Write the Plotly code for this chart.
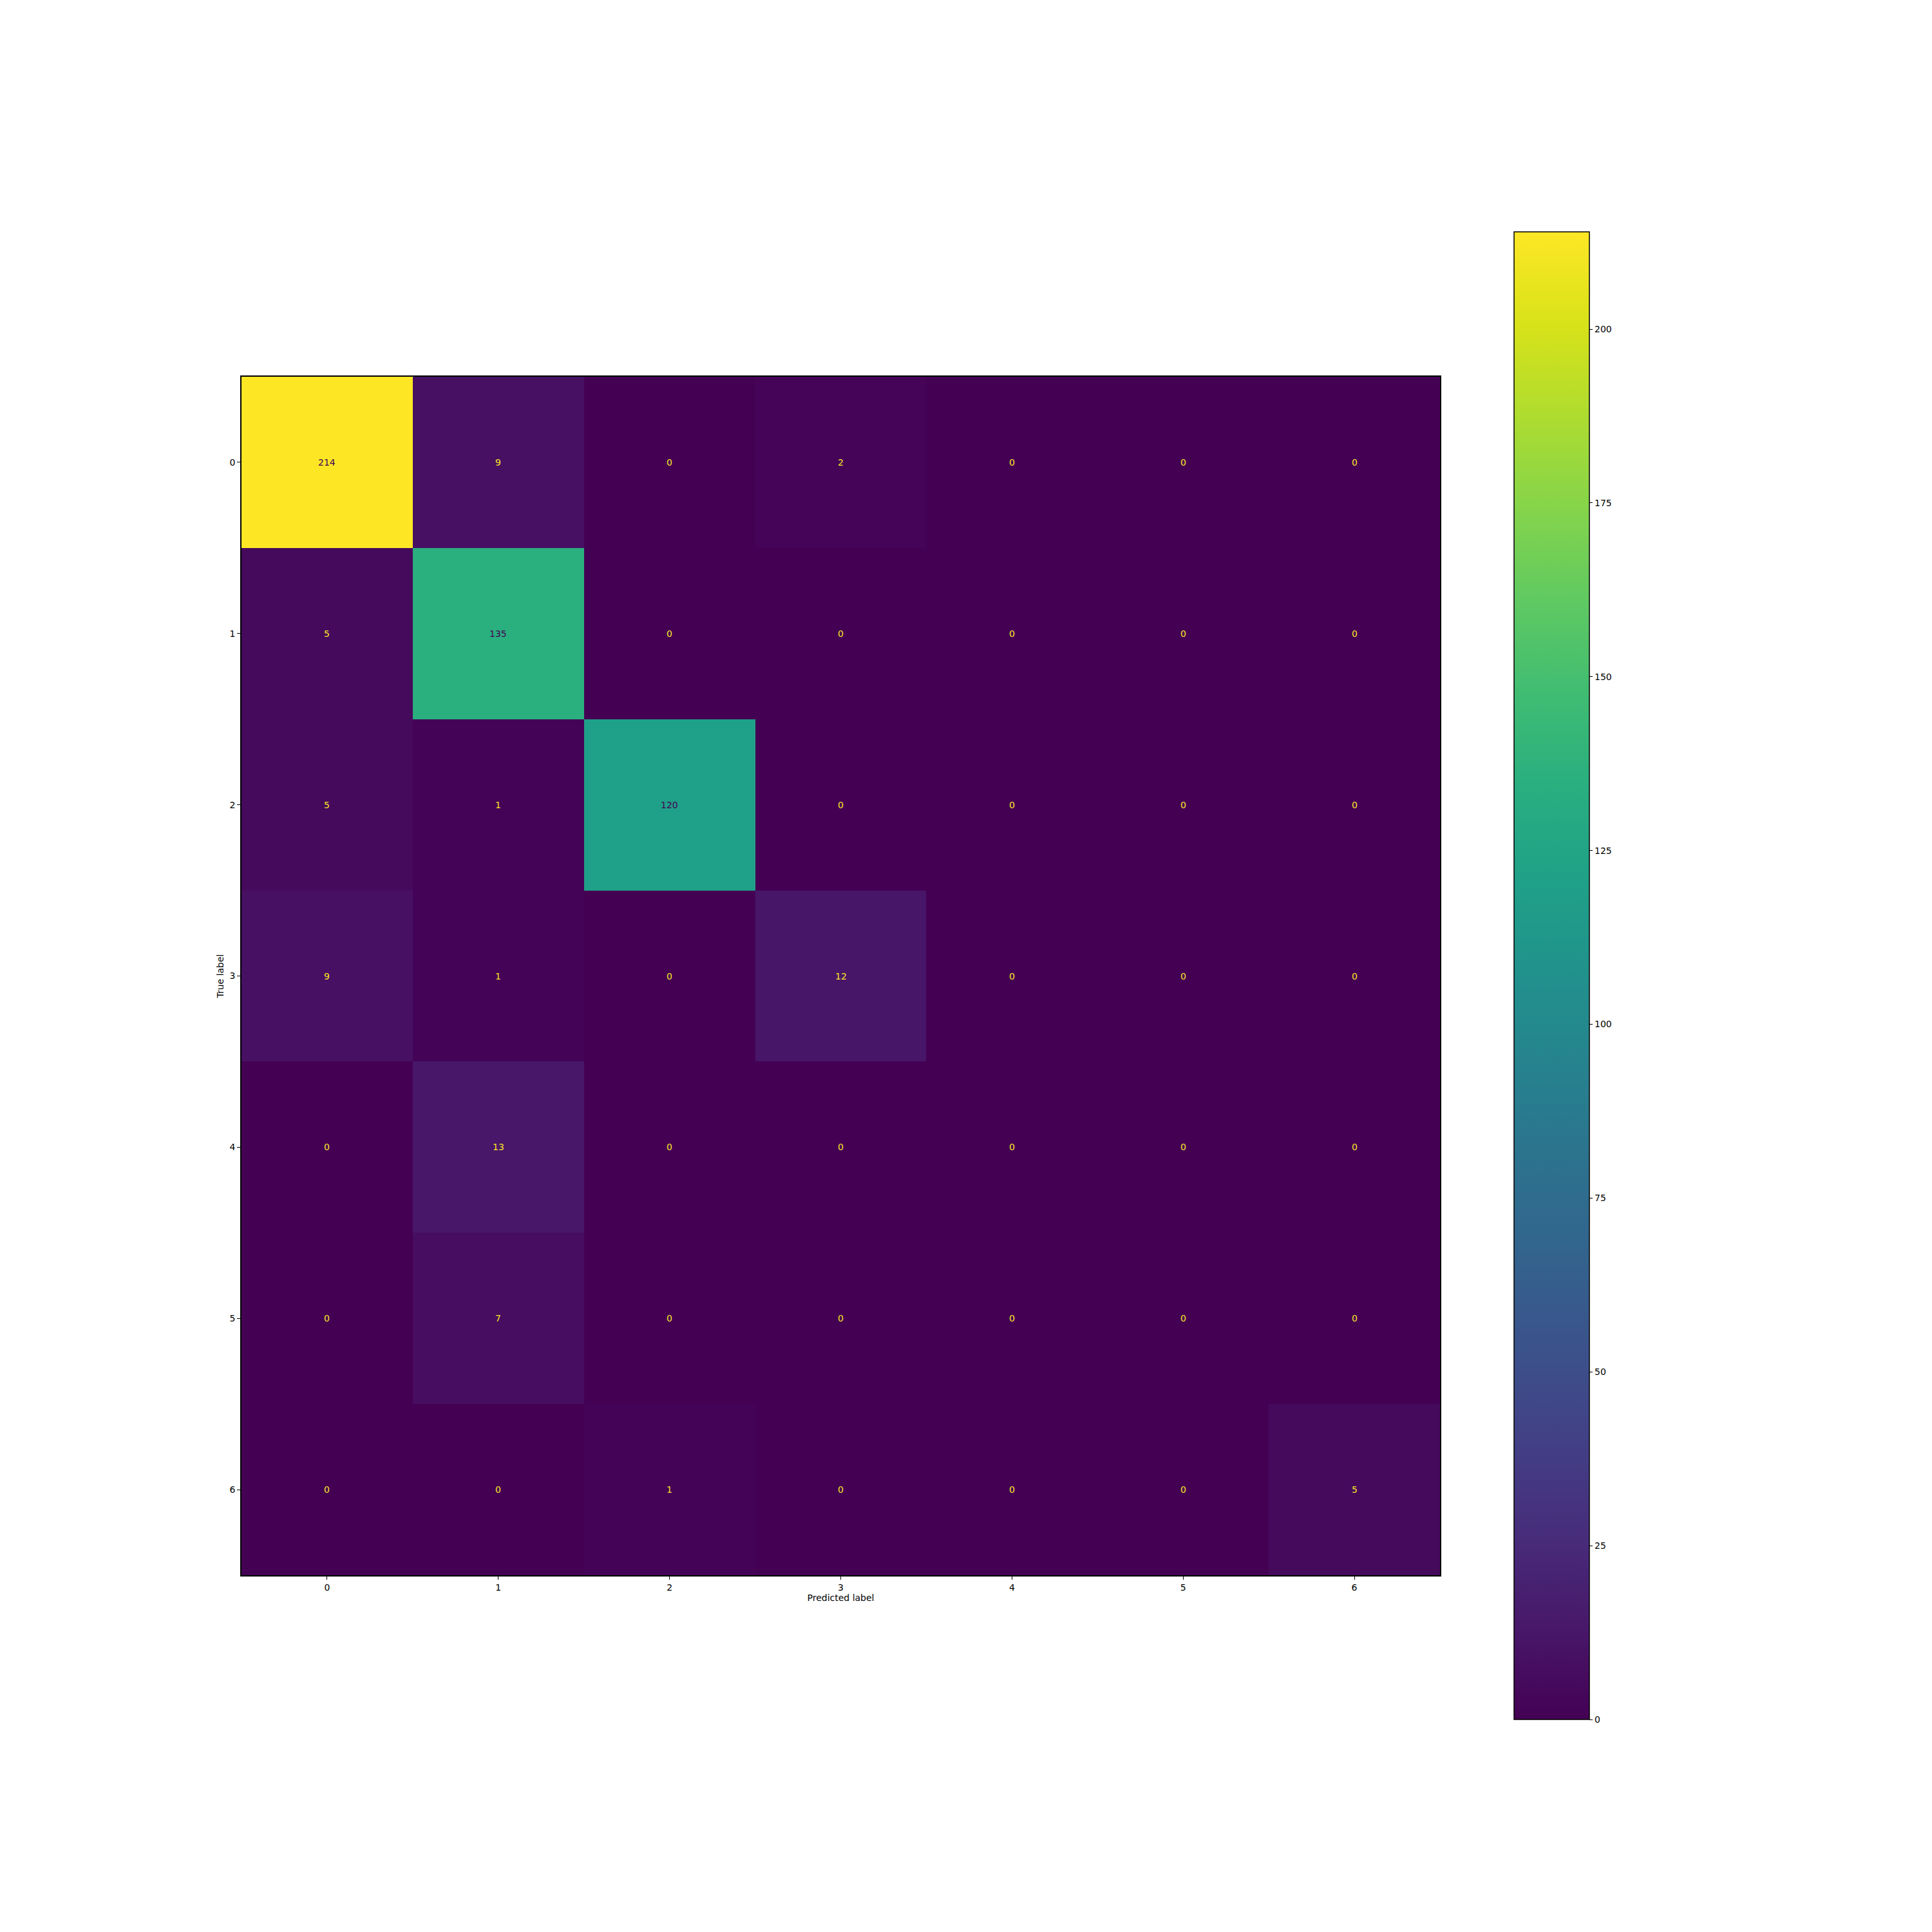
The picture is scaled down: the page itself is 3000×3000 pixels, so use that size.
import plotly.graph_objects as go

labels = ["0", "1", "2", "3", "4", "5", "6"]
matrix = [
    [214, 9, 0, 2, 0, 0, 0],
    [5, 135, 0, 0, 0, 0, 0],
    [5, 1, 120, 0, 0, 0, 0],
    [9, 1, 0, 12, 0, 0, 0],
    [0, 13, 0, 0, 0, 0, 0],
    [0, 7, 0, 0, 0, 0, 0],
    [0, 0, 1, 0, 0, 0, 5],
]
cbar_ticks = [0, 25, 50, 75, 100, 125, 150, 175, 200]

W = H = 3000
FONT = "DejaVu Sans"
vmax = max(max(r) for r in matrix)
vmin = min(min(r) for r in matrix)
thresh = (vmax + vmin) / 2.0

viridis = [
    [0.0, "#440154"], [0.0625, "#48186a"], [0.125, "#472d7b"], [0.1875, "#424086"],
    [0.25, "#3b528b"], [0.3125, "#33638d"], [0.375, "#2c728e"], [0.4375, "#26828e"],
    [0.5, "#21918c"], [0.5625, "#1fa088"], [0.625, "#28ae80"], [0.6875, "#3fbc73"],
    [0.75, "#5ec962"], [0.8125, "#84d44b"], [0.875, "#addc30"], [0.9375, "#d8e219"],
    [1.0, "#fde725"],
]

# plot area in pixels
px_l, px_r, px_t, px_b = 375, 2236, 585, 2446
cb_l, cb_r, cb_t, cb_b = 2351, 2468, 360, 2670

fig = go.Figure()
fig.add_trace(go.Heatmap(
    z=matrix, x=labels, y=labels,
    colorscale=viridis, zmin=0, zmax=vmax,
    showscale=True,
    xgap=0, ygap=0,
    colorbar=dict(
        x=cb_l / W, xanchor="left",
        y=1 - (cb_t + cb_b) / 2 / H, yanchor="middle",
        len=cb_b - cb_t, lenmode="pixels",
        thickness=cb_r - cb_l, thicknessmode="pixels",
        outlinecolor="black", outlinewidth=1.5,
        tickvals=cbar_ticks, ticktext=[str(t) for t in cbar_ticks],
        ticks="outside", ticklen=5, tickwidth=1.2, tickcolor="black",
        tickfont=dict(family=FONT, size=14, color="black"),
        xpad=0, ypad=0,
    ),
    hoverinfo="skip",
))

for i, row in enumerate(matrix):
    for j, v in enumerate(row):
        fig.add_annotation(
            x=labels[j], y=labels[i], text=str(v), showarrow=False,
            font=dict(family=FONT, size=14,
                      color="#440154" if v > thresh else "#fde725"),
        )

axis_common = dict(
    showline=True, linecolor="black", linewidth=1.5, mirror=True,
    ticks="outside", ticklen=5, tickwidth=1.2, tickcolor="black",
    tickfont=dict(family=FONT, size=14, color="black"),
    showgrid=False, zeroline=False, type="category",
)

fig.update_layout(
    width=W, height=H,
    margin=dict(l=0, r=0, t=0, b=0),
    paper_bgcolor="white", plot_bgcolor="white",
    xaxis=dict(domain=[px_l / W, px_r / W], range=[-0.5, 6.5],
               title=dict(text="Predicted label", font=dict(family=FONT, size=14, color="black"),
                          standoff=4),
               **axis_common),
    yaxis=dict(domain=[1 - px_b / H, 1 - px_t / H], range=[6.5, -0.5],
               title=dict(text="True label", font=dict(family=FONT, size=14, color="black"),
                          standoff=6),
               **axis_common),
    showlegend=False,
)

fig.write_html("out.html")
